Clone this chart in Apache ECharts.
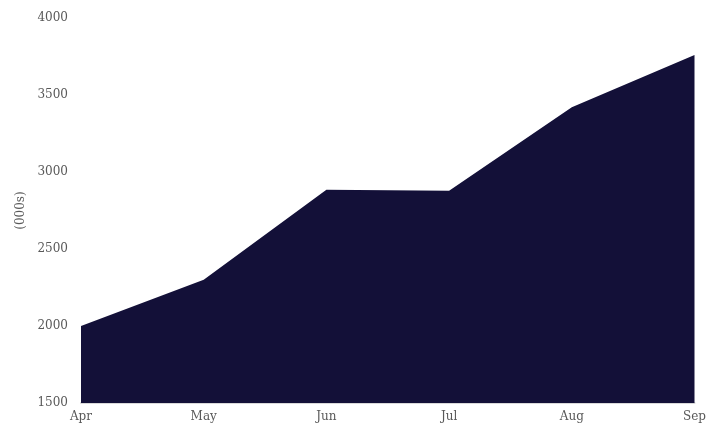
<!DOCTYPE html>
<html>
<head>
<meta charset="utf-8">
<script src="https://cdn.jsdelivr.net/npm/echarts@6/dist/echarts.min.js"></script>
<style>
  html, body { margin: 0; padding: 0; background: #fff; }
  #chart { width: 709px; height: 428px; }
</style>
</head>
<body>
<div id="chart"></div>
<script>
  // data
  var months = ['Apr', 'May', 'Jun', 'Jul', 'Aug', 'Sep'];
  var values = [2000, 2300, 2885, 2878, 3420, 3760];

  var myChart = echarts.init(document.getElementById('chart'));
  var font = 'Georgia, "DejaVu Serif", serif';

  myChart.setOption({
    animation: false,
    grid: { left: 81, right: 12, top: 18, bottom: 25 },
    xAxis: {
      type: 'category',
      boundaryGap: false,
      data: months,
      axisLine: { lineStyle: { color: '#d9d9d9', width: 2 } },
      axisTick: { show: false },
      axisLabel: { color: '#595959', fontFamily: font, fontSize: 12, margin: 8 }
    },
    yAxis: {
      type: 'value',
      min: 1500,
      max: 4000,
      interval: 500,
      name: '(000s)',
      nameLocation: 'middle',
      nameGap: 52,
      nameTextStyle: { color: '#595959', fontFamily: font, fontSize: 12 },
      axisLine: { show: false },
      axisTick: { show: false },
      splitLine: { show: false },
      axisLabel: {
        color: '#595959', fontFamily: font, fontSize: 12, margin: 13,
        formatter: function (v) { return String(v); }
      }
    },
    series: [{
      type: 'line',
      data: values,
      symbol: 'none',
      lineStyle: { width: 0 },
      areaStyle: { color: '#131038', opacity: 1, origin: 'start' }
    }]
  });
  window.onresize = () => myChart.resize();
</script>
</body>
</html>
